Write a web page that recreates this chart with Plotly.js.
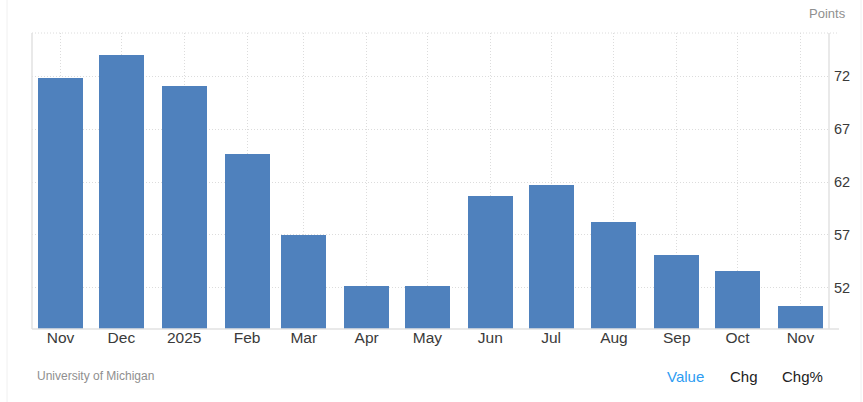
<!DOCTYPE html>
<html>
<head>
<meta charset="utf-8">
<script src="https://cdn.plot.ly/plotly-3.0.1.min.js"></script>
<style>
html,body{margin:0;padding:0;background:#fff;}
#chart{width:863px;height:402px;}
</style>
</head>
<body>
<div id="chart"></div>
<script>
// Data
var months = ['2024-11-01','2024-12-01','2025-01-01','2025-02-01','2025-03-01','2025-04-01','2025-05-01','2025-06-01','2025-07-01','2025-08-01','2025-09-01','2025-10-01','2025-11-01'];
var tickLabels = ['Nov','Dec','2025','Feb','Mar','Apr','May','Jun','Jul','Aug','Sep','Oct','Nov'];
var sentiment = [71.8, 74.0, 71.1, 64.7, 57.0, 52.2, 52.2, 60.7, 61.7, 58.2, 55.1, 53.6, 50.3];
var yTicks = [52, 57, 62, 67, 72];

var DAY = 86400000;
var fontFam = '"Liberation Sans", Arial, sans-serif';

var trace = {
  type: 'bar',
  x: months,
  y: sentiment,
  width: months.map(function(){ return 22.2 * DAY; }),
  marker: {color: '#4f81bd'},
  hoverinfo: 'x+y'
};

var plotW = 863 - 32 - 34, plotH = 296;
function px(x){ return (x - 32) / plotW; }
function py(y){ return (329 - y) / plotH; }

var layout = {
  width: 863, height: 402,
  margin: {l: 32, r: 34, t: 33, b: 73, pad: 0},
  paper_bgcolor: '#ffffff',
  plot_bgcolor: '#ffffff',
  showlegend: false,
  bargap: 0,
  font: {family: fontFam, color: '#333333'},
  xaxis: {
    type: 'date',
    range: ['2024-10-17 22:00', '2025-11-15 02:00'],
    tickvals: months,
    ticktext: tickLabels,
    tickfont: {size: 15.5, color: '#3a3a3a'},
    ticks: '',
    ticklabelstandoff: -3,
    showgrid: true,
    gridcolor: '#dcdcdc',
    griddash: '1px,2px',
    gridwidth: 1,
    showline: false,
    zeroline: false,
    fixedrange: true
  },
  yaxis: {
    side: 'right',
    range: [48.1, 76.1],
    tickvals: yTicks,
    ticktext: yTicks.map(String),
    tickfont: {size: 14.5, color: '#3a3a3a'},
    ticks: '',
    ticklabelstandoff: 4,
    showgrid: true,
    gridcolor: '#dcdcdc',
    griddash: '1px,2px',
    gridwidth: 1,
    showline: false,
    zeroline: false,
    fixedrange: true
  },
  shapes: [
    {type: 'line', xref: 'paper', yref: 'paper', x0: 0, x1: px(839), y0: 1, y1: 1,
     line: {color: '#dcdcdc', width: 1, dash: '1px,2px'}, layer: 'below'},
    {type: 'line', xref: 'paper', yref: 'paper', x0: 0, x1: px(839), y0: 0, y1: 0,
     line: {color: '#e2e2e2', width: 1.5}},
    {type: 'line', xref: 'paper', yref: 'paper', x0: 0, x1: 0, y0: 0, y1: 1,
     line: {color: '#e2e2e2', width: 1.5}},
    {type: 'line', xref: 'paper', yref: 'paper', x0: 1, x1: 1, y0: 0, y1: 1,
     line: {color: '#e2e2e2', width: 1.5}},
    {type: 'line', xref: 'paper', yref: 'paper', x0: px(7), x1: px(7), y0: py(0), y1: py(402),
     line: {color: '#f0f0f0', width: 1}},
    {type: 'line', xref: 'paper', yref: 'paper', x0: px(861), x1: px(861), y0: py(0), y1: py(402),
     line: {color: '#f0f0f0', width: 1}}
  ],
  annotations: [
    {text: 'Points', xref: 'paper', yref: 'paper', x: px(848), y: py(14), xanchor: 'right', yanchor: 'middle',
     showarrow: false, font: {size: 13, color: '#8f8f8f', family: fontFam}},
    {text: 'University of Michigan', xref: 'paper', yref: 'paper', x: px(35), y: py(376), xanchor: 'left', yanchor: 'middle',
     showarrow: false, font: {size: 12, color: '#8f8f8f', family: fontFam}},
    {text: 'Value', xref: 'paper', yref: 'paper', x: px(665), y: py(376), xanchor: 'left', yanchor: 'middle',
     showarrow: false, font: {size: 15, color: '#2d9cf2', family: fontFam}},
    {text: 'Chg', xref: 'paper', yref: 'paper', x: px(728), y: py(376), xanchor: 'left', yanchor: 'middle',
     showarrow: false, font: {size: 15, color: '#222222', family: fontFam}},
    {text: 'Chg%', xref: 'paper', yref: 'paper', x: px(780), y: py(376), xanchor: 'left', yanchor: 'middle',
     showarrow: false, font: {size: 15, color: '#222222', family: fontFam}}
  ]
};

Plotly.newPlot('chart', [trace], layout, {displayModeBar: false, responsive: false});
</script>
</body>
</html>
